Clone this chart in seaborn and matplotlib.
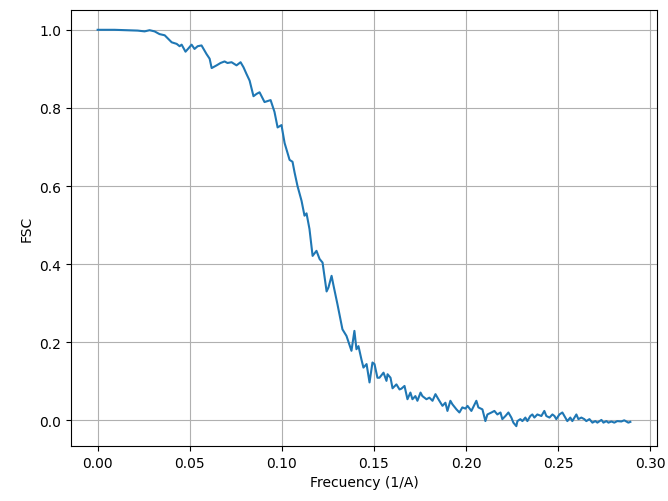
import seaborn as sns
import matplotlib.pyplot as plt

# FSC curve
freq = [0.0000, 0.0092, 0.0163, 0.0217, 0.0255, 0.0282, 0.0309, 0.0336, 0.0364, 0.0385,
        0.0402, 0.0429, 0.0445, 0.0456, 0.0477, 0.0494, 0.0510, 0.0526, 0.0543, 0.0564,
        0.0591, 0.0608, 0.0619, 0.0646, 0.0667, 0.0689, 0.0705, 0.0727, 0.0754, 0.0776,
        0.0792, 0.0808, 0.0825, 0.0846, 0.0863, 0.0879, 0.0906, 0.0939, 0.0960, 0.0977,
        0.0998, 0.1015, 0.1042, 0.1058, 0.1069, 0.1085, 0.1107, 0.1123, 0.1134, 0.1150,
        0.1167, 0.1188, 0.1205, 0.1221, 0.1243, 0.1253, 0.1270, 0.1281, 0.1302, 0.1329,
        0.1351, 0.1378, 0.1394, 0.1405, 0.1416, 0.1432, 0.1443, 0.1460, 0.1476, 0.1492,
        0.1503, 0.1519, 0.1530, 0.1552, 0.1568, 0.1574, 0.1590, 0.1601, 0.1622, 0.1639,
        0.1649, 0.1666, 0.1682, 0.1698, 0.1709, 0.1725, 0.1736, 0.1753, 0.1763, 0.1785,
        0.1801, 0.1818, 0.1834, 0.1850, 0.1872, 0.1888, 0.1899, 0.1915, 0.1926, 0.1948,
        0.1964, 0.1980, 0.1997, 0.2008, 0.2029, 0.2056, 0.2067, 0.2089, 0.2105, 0.2116,
        0.2138, 0.2154, 0.2170, 0.2187, 0.2197, 0.2214, 0.2230, 0.2246, 0.2257, 0.2273,
        0.2279, 0.2295, 0.2306, 0.2322, 0.2333, 0.2349, 0.2360, 0.2371, 0.2387, 0.2409,
        0.2425, 0.2436, 0.2453, 0.2469, 0.2480, 0.2490, 0.2507, 0.2523, 0.2539, 0.2550,
        0.2566, 0.2577, 0.2599, 0.2610, 0.2626, 0.2642, 0.2653, 0.2670, 0.2686, 0.2702,
        0.2713, 0.2735, 0.2746, 0.2762, 0.2773, 0.2789, 0.2805, 0.2821, 0.2843, 0.2859,
        0.2870, 0.2881, 0.2892]

fsc = [1.000, 1.000, 0.999, 0.998, 0.996, 0.999, 0.996, 0.989, 0.986, 0.976,
       0.968, 0.964, 0.958, 0.962, 0.944, 0.953, 0.962, 0.951, 0.958, 0.960,
       0.938, 0.926, 0.902, 0.909, 0.915, 0.919, 0.915, 0.917, 0.909, 0.917,
       0.904, 0.887, 0.870, 0.830, 0.836, 0.840, 0.815, 0.820, 0.790, 0.750,
       0.756, 0.710, 0.667, 0.662, 0.635, 0.600, 0.562, 0.524, 0.530, 0.490,
       0.421, 0.434, 0.413, 0.404, 0.330, 0.340, 0.370, 0.344, 0.297, 0.233,
       0.216, 0.178, 0.229, 0.182, 0.190, 0.156, 0.135, 0.144, 0.097, 0.148,
       0.144, 0.109, 0.109, 0.122, 0.101, 0.118, 0.109, 0.082, 0.092, 0.079,
       0.081, 0.088, 0.054, 0.071, 0.054, 0.062, 0.050, 0.071, 0.062, 0.054,
       0.058, 0.050, 0.067, 0.054, 0.037, 0.045, 0.024, 0.050, 0.041, 0.028,
       0.020, 0.033, 0.030, 0.037, 0.024, 0.050, 0.033, 0.028, -0.002, 0.015,
       0.020, 0.024, 0.015, 0.020, 0.003, 0.011, 0.020, 0.007, -0.006, -0.015,
       -0.002, 0.003, -0.002, 0.007, -0.002, 0.011, 0.015, 0.007, 0.015, 0.011,
       0.024, 0.011, 0.007, 0.015, 0.011, 0.003, 0.015, 0.020, 0.007, -0.002,
       0.007, -0.002, 0.015, 0.003, 0.007, 0.003, -0.002, 0.003, -0.006, -0.002,
       -0.006, 0.001, -0.006, -0.002, -0.006, -0.003, -0.006, -0.002, -0.003, 0.000,
       -0.003, -0.006, -0.004]

fig = plt.figure(figsize=(6.68, 5.02), dpi=100)
ax = fig.add_axes([0.1063, 0.1096, 0.8772, 0.8685])
sns.lineplot(x=freq, y=fsc, estimator=None, sort=False, ax=ax)
ax.grid(True)
ax.set_xlabel("Frecuency (1/A)")
ax.set_ylabel("FSC")
plt.savefig("out.png", dpi=100)
